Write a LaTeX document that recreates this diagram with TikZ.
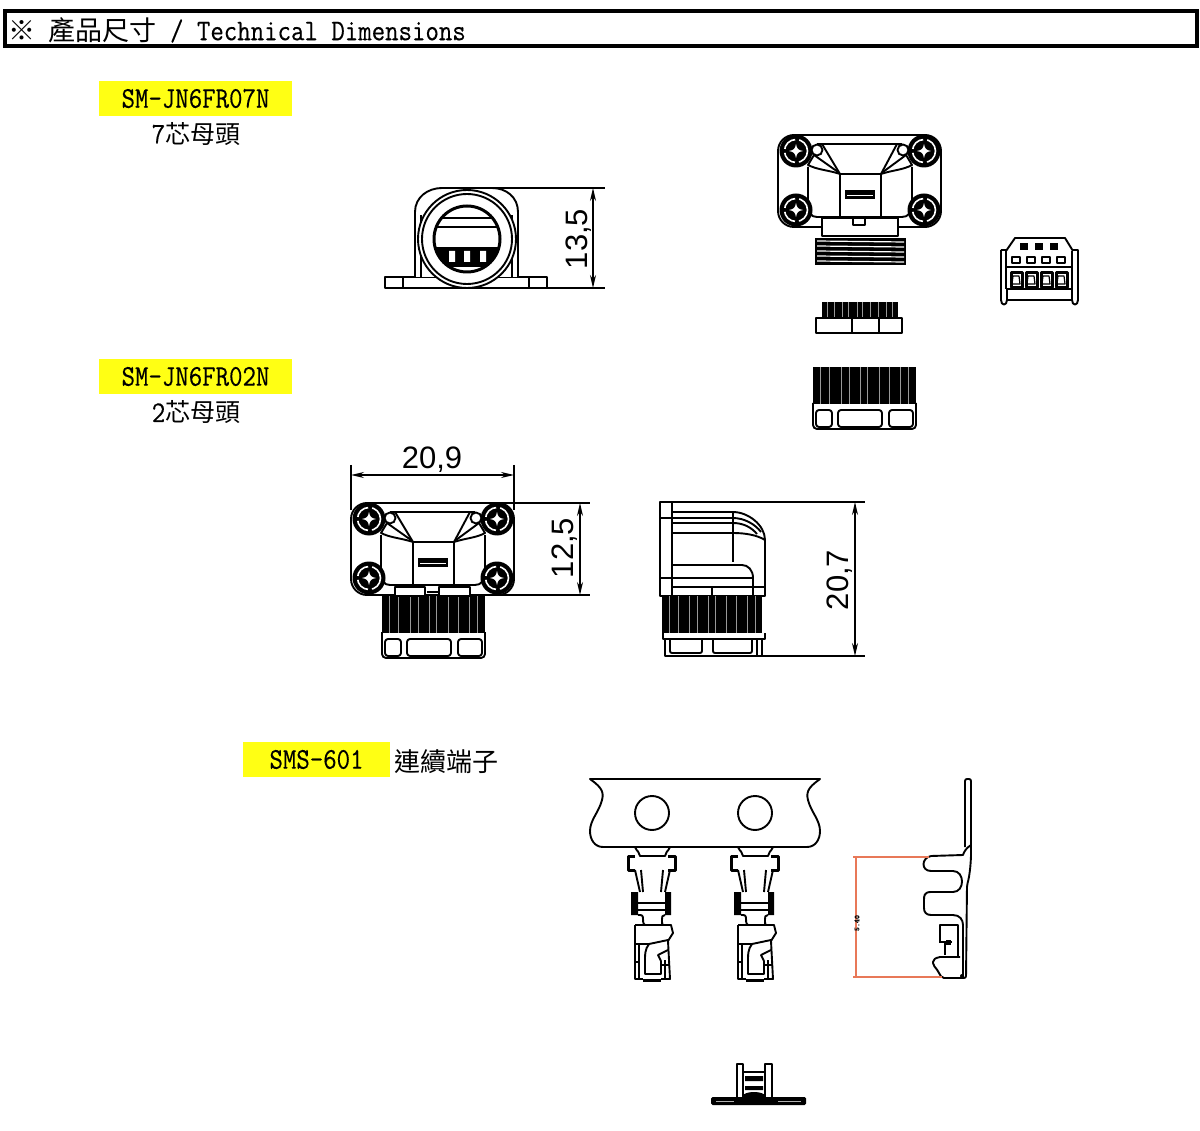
\documentclass[tikz,border=0pt]{standalone}
\usepackage{fontspec}
\usepackage{tikz}
\usetikzlibrary{arrows.meta,positioning}
\newfontfamily\cjkfont{Noto Sans CJK TC}
\newfontfamily\dimfont{Liberation Sans}
\newfontfamily\labelfont{Latin Modern Mono}[FakeBold=0.35]
\definecolor{markyellow}{RGB}{255,255,20}
\definecolor{redline}{RGB}{232,120,88}
\newcommand{\tallmono}[1]{\scalebox{1}[1.15]{#1}}
\newcommand{\knurlbox}[4]{
  \fill[black] (#1,#2) rectangle ++(#3,#4);
  \foreach \k in {.07,.16,.27,.35,.46,.53,.64,.74,.85,.93}
    \draw[white!60!black,line width=.6pt] ({#1+\k*#3},#2) -- ++(0,#4);
}
\tikzset{
  part/.style={line width=1.9pt,line join=round},
  thinpart/.style={line width=1.2pt,line join=round},
  heavy/.style={line width=3pt,line join=round},
  dimline/.style={line width=1.5pt,<->,>={Stealth[length=13pt,width=6pt]}},
  extline/.style={line width=1.8pt},
  dimtext/.style={font=\dimfont\fontsize{31}{31}\selectfont,inner sep=0pt},
  partno/.style={fill=markyellow,font=\labelfont\fontsize{26.1}{30}\selectfont,inner sep=0pt,minimum height=35pt},
  caption/.style={font=\labelfont\fontsize{26.1}{30}\selectfont,inner sep=0pt},
  boltscrew/.pic={
    \fill[black] (0,0) circle (16.5);
    \draw[white,line width=1.6pt,dash pattern=on 15pt off 4pt] (0,0) circle (11.5);
    \fill[white] (-7,0) .. controls (-2,-1) and (-1,-2) .. (0,-7) .. controls (1,-2) and (2,-1) .. (7,0) .. controls (2,1) and (1,2) .. (0,7) .. controls (-1,2) and (-2,1) .. (-7,0) -- cycle;
  },
  housing/.pic={
    \draw[part,fill=white,rounded corners=16pt] (0,0) rectangle (163,92);
    \draw[part] (39,9) -- (124,9);
    \draw[part] (30,32) -- (30,68) .. controls (30,78) and (33,82) .. (39,82) -- (124,82) .. controls (130,82) and (134,78) .. (134,68) -- (134,32);
    \draw[part] (62,39) rectangle (103,82);
    \draw[part] (39,9) -- (44,9) -- (62,39) .. controls (50,35) and (40,35) .. (30,30) -- (36,20);
    \draw[part] (124,9) -- (119,9) -- (103,39) .. controls (115,35) and (125,35) .. (134,30) -- (128,20);
    \draw[part] (36,20) -- (60,37) (128,20) -- (105,37);
    \draw[part,fill=white] (39,15) circle (5.5) (125,15) circle (5.5);
    \fill[black] (67,55) rectangle (97,64);
    \draw[white,line width=.6pt] (69,60) -- (95,60);
    \pic at (18,16) {boltscrew};
    \pic at (146,16) {boltscrew};
    \pic at (18,75) {boltscrew};
    \pic at (146,75) {boltscrew};
  },
  knobcap/.pic={
    \draw[part,rounded corners=4pt] (0,36) -- (0,62) -- (103,62) -- (103,36);
    \draw[part,rounded corners=3pt] (3,43) rectangle (19,60);
    \draw[part,rounded corners=3pt] (25,43) rectangle (69,60);
    \draw[part,rounded corners=3pt] (76,43) rectangle (100,60);
    \knurlbox{0}{0}{103}{37}
  },
  terminal/.pic={
    \draw[part] (-17,0) .. controls (-15,5) and (-12,5) .. (-12,9) -- (13,9) .. controls (13,5) and (16,5) .. (18,0);
    \draw[heavy] (-17,9) -- (-24,9) -- (-24,23) -- (-17,23);
    \draw[heavy] (16,9) -- (23,9) -- (23,23) -- (16,23);
    \draw[part] (-17,23) -- (-12,45) (-11,23) -- (-9,45) (18,23) -- (13,45) (11,23) -- (9,45);
    \fill[black] (-21,45) rectangle (-14,68) (13,45) rectangle (19,68);
    \draw[part] (-14,56) -- (13,56) (-14,63) -- (13,63);
    \draw[part] (-14,68) .. controls (-10,68) and (-9,68) .. (-9,72) .. controls (-9,76) and (-8,78) .. (-7,78);
    \draw[part] (13,68) .. controls (10,68) and (10,70) .. (10,72) .. controls (10,76) and (10,78) .. (11,78);
    \draw[part] (-17,78) -- (19,78) -- (21,86) -- (16,94) -- (18,132) -- (9,132);
    \draw[part] (-17,78) -- (-17,132) -- (-9,132);
    \draw[heavy] (-9,133) -- (9,133);
    \draw[part] (-17,97) -- (-3,97) -- (16,93);
    \draw[part] (-3,97) .. controls (-7,102) and (-7,108) .. (-7,112) -- (-7,127) -- (9,127) -- (9,114) (9,114) -- (6,108) -- (16,103);
    \draw[thinpart] (-13,97) -- (-13,132) (-17,115) -- (-13,115) (13,113) -- (13,131) (9,118) -- (18,118);
  }
}
\begin{document}
\begin{tikzpicture}[x=1pt,y=-1pt]
  \useasboundingbox (0,0) rectangle (1200,1131);
  \fill[white] (0,0) rectangle (1200,1131);
  % title bar
  \draw[line width=4pt] (5,11) rectangle (1197,46);
  \node[caption,anchor=west] (title) at (8,30) {{\cjkfont\fontsize{27}{30}\selectfont ※}\ {\cjkfont\fontsize{27}{30}\selectfont 產品尺寸}\ \tallmono{/\ Technical\ Dimensions}};
  % part numbers
  \node[partno,minimum width=193pt] (sm07) at (195.5,98.5) {\tallmono{SM-JN6FR07N}};
  \node[caption] (sm07cn) at (196,134) {\tallmono{7}{\cjkfont\fontsize{25}{30}\selectfont 芯母頭}};
  \node[partno,minimum width=193pt] (sm02) at (195.5,376.5) {\tallmono{SM-JN6FR02N}};
  \node[caption] (sm02cn) at (196,412.5) {\tallmono{2}{\cjkfont\fontsize{25}{30}\selectfont 芯母頭}};
  \node[partno,minimum width=147pt] (sms) at (316.5,759.5) {\tallmono{SMS-601}};
  \node[caption,anchor=west] (smscn) at (394,762) {\cjkfont\fontsize{26}{30}\selectfont 連續端子};

  % round end view
  \draw[part] (385,277) rectangle (547,288);
  \draw[part] (403,277) -- (403,288) (529,277) -- (529,288);
  \draw[part,fill=white] (415,277) -- (415,212) .. controls (415,197) and (428,188) .. (442,188) -- (492,188) .. controls (506,188) and (518,197) .. (518,212) -- (518,277);
  \draw[thinpart] (421,277) -- (421,215) (512,277) -- (512,215);
  \draw[part,fill=white] (467,239) circle (49);
  \draw[part] (467,239) circle (45);
  \begin{scope}
    \clip (467,239) circle (33);
    \fill[black] (430,247) rectangle (505,267);
    \fill[white] (449,251) rectangle (455,262) (464,251) rectangle (470,262) (480,251) rectangle (486,262);
    \draw[part] (430,218) -- (505,218) (430,227) -- (505,227);
  \end{scope}
  \draw[line width=3pt] (467,239) circle (33);
  \coordinate (r135a) at (593,188);
  \coordinate (r135b) at (593,288);
  \draw[extline] (442,188) -- (605,188) (500,288) -- (605,288);
  \draw[dimline] (r135a) -- (r135b);
  \node[dimtext,rotate=90] (d135) at (579,239) {13,5};

  % exploded view
  \fill[black] (815,238) rectangle (906,265);
  \foreach \ty in {241,246,251,256,261}
    \draw[white,line width=1.2pt] (817,\ty) -- (904,\ty+1);
  \pic at (778,135) {housing};
  \draw[part,fill=white] (822,218) rectangle (898,236);
  \draw[part] (853,218) -- (853,225) -- (865,225) -- (865,218);
  \knurlbox{822}{302}{76}{16}
  \draw[part] (816,318) rectangle (902,333);
  \draw[part] (852,318) -- (852,333) (879,318) -- (879,333);
  \pic at (813,367) {knobcap};

  % loose connector
  \draw[part] (1006,251) -- (1015,238) -- (1065,238) -- (1073,251);
  \draw[part] (1001,250) -- (1001,300) .. controls (1001,306) and (1007,306) .. (1007,300) -- (1007,289) -- (1072,289) -- (1072,300) .. controls (1072,306) and (1078,306) .. (1078,300) -- (1078,250) -- (1073,250);
  \draw[part] (1006,251) -- (1006,289) (1001,250) -- (1006,250) (1072,251) -- (1072,289) (1007,300) -- (1072,300);
  \foreach \sx in {1020,1035,1050}
    \fill[black] (\sx,243) rectangle ++(8,7);
  \foreach \sx in {1012,1027,1042,1057} {
    \draw[part] (\sx,257) rectangle ++(8,6);
    \draw[heavy] (\sx-1,273) -- (\sx-1,288) -- (\sx+10,288) -- (\sx+10,273) -- cycle;
    \draw[thinpart] (\sx+1,276) -- (\sx+7,276) -- (\sx+8,284) -- (\sx,284) -- cycle;
  }
  \draw[line width=2pt] (1006,267) -- (1072,267);

  % front view, 2 core
  \pic at (382,596) {knobcap};
  \pic at (351,503) {housing};
  \draw[part,fill=white] (395,587) rectangle (425,596);
  \draw[part,fill=white] (439,587) rectangle (470,596);
  \draw[part] (427,592) -- (438,592);
  \coordinate (f209a) at (351,475);
  \coordinate (f209b) at (514,475);
  \draw[extline] (351,465) -- (351,510) (514,465) -- (514,510);
  \draw[dimline] (f209a) -- (f209b);
  \node[dimtext] (d209) at (432,460) {20,9};
  \coordinate (f125a) at (580,503);
  \coordinate (f125b) at (580,595);
  \draw[extline] (435,503) -- (590,503) (490,595) -- (590,595);
  \draw[dimline] (f125a) -- (f125b);
  \node[dimtext,rotate=90] (d125) at (565,548) {12,5};

  % side view
  \draw[part] (660,502) rectangle (672,596);
  \draw[part] (660,518) -- (672,518) (660,578) -- (672,578);
  \draw[part] (672,512) -- (733,512) .. controls (748,512) and (765,525) .. (765,540) -- (765,596) -- (672,596);
  \draw[part] (672,518) -- (733,518) .. controls (744,518) and (755,524) .. (761,532);
  \draw[part] (672,523) -- (733,523) .. controls (744,523) and (752,528) .. (757,534);
  \draw[part] (672,533) -- (733,533) .. controls (745,533) and (757,535) .. (765,540);
  \draw[part] (733,512) -- (733,562);
  \draw[part] (672,565) -- (742,565) .. controls (748,565) and (753,570) .. (753,578) -- (753,596);
  \draw[part] (672,578) -- (753,578) (672,587) -- (765,587) (712,587) -- (712,596);
  \knurlbox{662}{596}{100}{37}
  \draw[part] (663,633) -- (663,639) -- (765,639) -- (765,633);
  \draw[part] (665,639) -- (665,656) -- (762,656) -- (762,639);
  \draw[part,rounded corners=2pt] (670,639) -- (670,653) -- (702,653) -- (702,639);
  \draw[part,rounded corners=2pt] (713,639) -- (713,653) -- (752,653) -- (752,639);
  \draw[part] (757,639) -- (757,656);
  \coordinate (s207a) at (855,502);
  \coordinate (s207b) at (855,656);
  \draw[extline] (660,502) -- (865,502) (665,656) -- (865,656);
  \draw[dimline] (s207a) -- (s207b);
  \node[dimtext,rotate=90] (d207) at (840,580) {20,7};

  % terminal strip
  \draw[part] (590,779) -- (820,779) .. controls (812,785) and (805,790) .. (808,800) .. controls (811,812) and (820,820) .. (820,831) .. controls (820,840) and (815,847) .. (807,847) -- (603,847) .. controls (595,847) and (590,840) .. (590,831) .. controls (590,820) and (599,812) .. (602,800) .. controls (605,790) and (598,785) .. (590,779) -- cycle;
  \draw[part] (652,813) circle (17) (755,813) circle (17);
  \pic at (652,847) {terminal};
  \pic at (755,847) {terminal};

  % terminal from the side
  \draw[part,rounded corners=2pt] (965,847) -- (965,779) -- (971,779) -- (971,852) .. controls (971,860) and (970,875) .. (967,885) -- (966,978) -- (942,978) -- (936,968) -- (933,965) -- (933,960) -- (938,957) -- (960,957);
  \draw[part] (971,845) .. controls (966,848) and (964,852) .. (963,855) -- (931,856);
  \draw[part] (931,856) .. controls (921,858) and (921,871) .. (931,871) -- (953,871) .. controls (965,871) and (965,892) .. (953,892) -- (931,892) .. controls (924,892) and (924,896) .. (924,900) -- (924,908) .. controls (924,912) and (926,915) .. (931,915) -- (953,915) .. controls (960,915) and (963,920) .. (963,925) -- (963,978);
  \draw[part] (940,943) -- (940,925) -- (958,925) -- (958,957);
  \draw[part] (945,943) -- (945,955) (941,942) -- (952,942);
  \fill[black] (946,940) rectangle (951,945);
  \fill[black] (962,976) circle (2);
  \coordinate (smtop) at (929,857);
  \coordinate (smbot) at (942,977);
  \draw[redline,line width=1.5pt] (853,857) -- (smtop) (853,977) -- (smbot) (856,857) -- (856,977);
  \node[rotate=90,inner sep=0pt,font=\labelfont\bfseries\fontsize{7.5}{7.5}\selectfont] (d540) at (857,923) {5.40};

  % bottom view
  \fill[black,rounded corners=1.5pt] (711,1097) rectangle (806,1105);
  \draw[white!70!black,line width=.8pt] (716,1101) -- (734,1101) (778,1101) -- (801,1101);
  \draw[part] (737,1097) -- (737,1064) -- (743,1064) -- (743,1097) (765,1097) -- (765,1064) -- (772,1064) -- (772,1097);
  \draw[part] (743,1072) -- (765,1072);
  \fill[black] (745,1076) rectangle (763,1081) (745,1086) rectangle (763,1090);
  \fill[black] (754,1096) ellipse (11 and 4);
\end{tikzpicture}
\end{document}
